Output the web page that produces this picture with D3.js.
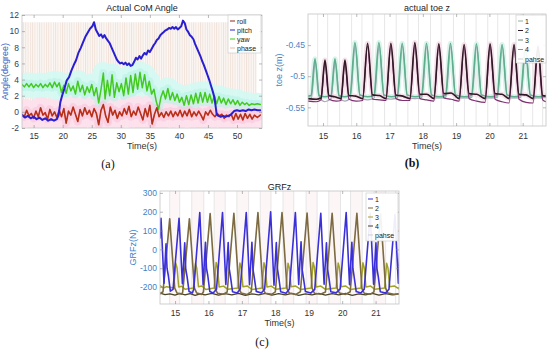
<!DOCTYPE html>
<html>
<head>
<meta charset="utf-8">
<script src="https://cdn.jsdelivr.net/npm/d3@7"></script>
<style>
  body { margin: 0; background: #fff; }
  svg { display: block; }
</style>
</head>
<body>
<svg width="550" height="352"></svg>
<script>
// ---------- (a) Actual CoM Angle : [time s, angle deg] ----------
const comRoll = [[13.0,-0.3],[13.4,-0.6],[13.8,0.2],[14.2,-0.5],[14.6,-0.2],[15.0,-0.8],[15.4,0.1],[15.8,-0.6],[16.2,0.5],[16.6,-0.4],[17.0,-0.1],[17.4,-0.9],[17.8,0.3],[18.2,-0.5],[18.6,0.0],[19.0,-0.7],[19.4,0.2],[19.8,-0.6],[20.2,0.4],[20.6,-1.4],[21.0,0.1],[21.4,-0.4],[21.8,0.6],[22.2,-0.3],[22.6,-1.2],[23.0,0.3],[23.4,-0.5],[23.8,0.5],[24.2,-0.3],[24.6,0.2],[25.0,-0.6],[25.4,0.4],[25.8,-0.2],[26.2,-1.6],[26.6,0.2],[27.0,0.9],[27.4,-0.5],[27.8,-1.3],[28.2,0.6],[28.6,-0.4],[29.0,0.2],[29.4,-0.8],[29.8,0.0],[30.2,-0.5],[30.6,0.4],[31.0,-0.3],[31.4,0.7],[31.8,-0.6],[32.2,0.1],[32.6,-0.4],[33.0,0.6],[33.4,-0.2],[33.8,-1.0],[34.2,0.4],[34.6,-0.6],[35.0,0.8],[35.4,-1.5],[35.8,-0.3],[36.2,0.5],[36.6,-0.6],[37.0,-0.1],[37.4,-0.7],[37.8,0.0],[38.2,-0.5],[38.6,0.1],[39.0,-0.6],[39.4,0.0],[39.8,-0.5],[40.2,0.2],[40.6,-0.6],[41.0,0.1],[41.4,-0.5],[41.8,0.3],[42.2,-0.6],[42.6,0.0],[43.0,-0.5],[43.4,0.1],[43.8,-0.4],[44.2,-1.0],[44.6,0.0],[45.0,-0.4],[45.4,0.2],[45.8,-0.3],[46.2,-0.6],[46.6,-0.2],[47.0,-0.5],[47.4,-0.3],[47.8,-0.8],[48.2,-0.4],[48.6,-0.6],[49.0,-0.3],[49.4,-1.0],[49.8,-0.2],[50.2,-0.9],[50.6,-0.3],[51.0,-1.0],[51.4,-0.2],[51.8,-0.8],[52.2,-0.3],[52.6,-0.9],[53.0,-0.4],[53.5,-0.7],[54.0,-0.4]];
const comPitch = [[13.0,-0.4],[13.5,-0.7],[14.0,-0.5],[14.5,-0.8],[15.0,-0.6],[15.5,-0.9],[16.0,-0.7],[16.5,-1.0],[17.0,-0.8],[17.5,-1.1],[18.0,-0.9],[18.5,-1.1],[19.0,-0.9],[19.3,-0.4],[19.6,1.2],[19.9,2.0],[20.3,2.9],[20.7,3.9],[21.1,4.3],[21.5,5.1],[21.9,5.8],[22.3,6.4],[22.7,7.3],[23.1,7.9],[23.5,8.6],[23.9,9.3],[24.3,9.8],[24.7,10.3],[25.1,10.6],[25.4,11.1],[25.7,10.2],[26.0,9.8],[26.3,9.4],[26.6,9.6],[26.9,9.2],[27.2,9.5],[27.5,9.1],[27.8,8.8],[28.1,8.5],[28.4,8.0],[28.7,7.5],[29.0,7.0],[29.3,6.5],[29.6,6.2],[29.9,6.0],[30.2,6.1],[30.5,5.9],[30.8,6.1],[31.1,5.8],[31.4,6.0],[31.7,5.7],[32.0,5.8],[32.3,6.2],[32.6,6.7],[32.9,6.5],[33.2,6.9],[33.5,6.6],[33.8,7.0],[34.1,7.3],[34.4,7.1],[34.7,7.6],[35.0,7.4],[35.3,7.8],[35.6,8.2],[35.9,8.5],[36.2,8.9],[36.5,9.1],[36.8,9.5],[37.1,9.7],[37.4,9.9],[37.7,10.1],[38.0,10.2],[38.3,10.4],[38.6,10.3],[38.9,10.5],[39.2,10.3],[39.5,10.5],[39.8,10.2],[40.1,10.4],[40.4,10.6],[40.7,11.3],[41.0,11.0],[41.3,10.2],[41.6,9.9],[41.9,9.5],[42.2,9.3],[42.5,9.0],[42.8,8.4],[43.1,7.9],[43.4,7.4],[43.7,6.9],[44.0,6.3],[44.3,5.8],[44.6,5.2],[44.9,4.6],[45.2,4.0],[45.5,3.3],[45.8,2.6],[46.1,1.8],[46.3,0.8],[46.5,-0.3],[46.8,-0.5],[47.2,-0.6],[47.6,-0.5],[48.0,-0.6],[48.5,-0.5],[49.0,-0.3],[49.5,0.1],[50.0,0.2],[50.5,0.1],[51.0,0.2],[51.5,0.1],[52.0,0.3],[52.5,0.2],[53.0,0.3],[53.5,0.2],[54.0,0.2]];
const comYaw = [[13.0,3.4],[13.4,3.1],[13.8,3.5],[14.2,3.1],[14.6,3.5],[15.0,3.0],[15.4,3.4],[15.8,3.1],[16.2,3.5],[16.6,3.0],[17.0,3.4],[17.4,3.1],[17.8,3.6],[18.2,3.0],[18.6,3.7],[19.0,3.1],[19.4,3.6],[19.8,2.4],[20.2,3.3],[20.6,2.3],[21.0,3.5],[21.4,2.6],[21.8,3.2],[22.2,2.2],[22.6,3.8],[23.0,2.5],[23.4,3.3],[23.8,2.1],[24.2,3.1],[24.6,2.4],[25.0,3.4],[25.4,2.0],[25.8,3.0],[26.2,1.1],[26.6,2.8],[27.0,4.8],[27.3,1.6],[27.7,3.9],[28.1,2.0],[28.5,4.6],[28.9,1.8],[29.3,3.6],[29.7,2.5],[30.1,3.5],[30.5,2.0],[30.9,4.2],[31.3,2.2],[31.7,4.5],[32.1,2.4],[32.5,4.7],[32.9,2.8],[33.3,4.9],[33.7,3.0],[34.1,4.6],[34.5,2.6],[34.9,3.8],[35.3,2.2],[35.7,2.8],[36.1,1.3],[36.5,0.3],[36.9,1.8],[37.3,2.6],[37.7,1.6],[38.1,2.9],[38.5,1.5],[38.9,2.4],[39.3,1.4],[39.7,2.2],[40.1,1.2],[40.5,1.8],[40.9,0.8],[41.3,2.0],[41.7,0.9],[42.1,2.1],[42.5,1.0],[42.9,2.3],[43.3,1.1],[43.7,2.4],[44.1,1.2],[44.5,2.4],[44.9,1.2],[45.3,2.2],[45.7,1.1],[46.1,2.0],[46.5,1.0],[46.9,1.9],[47.3,1.1],[47.7,1.7],[48.1,0.9],[48.5,1.6],[48.9,1.0],[49.3,1.5],[49.7,0.9],[50.1,1.4],[50.5,0.8],[50.9,1.2],[51.3,0.9],[51.7,1.1],[52.1,0.8],[52.5,1.0],[53.0,0.9],[53.5,1.0],[54.0,0.9]];
const phaseSpanA = [13.0, 53.4];     // time extent of the phase signal
const phaseLevelsA = [-1.9, 11.1];   // its low / high level
const ticksAx = [15, 20, 25, 30, 35, 40, 45, 50];
const ticksAy = [-2, 0, 2, 4, 6, 8, 10, 12];
const legendA = ["roll", "pitch", "yaw", "phase"];

// ---------- (b) actual toe z : [time s, z m] ----------
const toe1 = [[14.55,-0.532],[14.64,-0.531],[14.76,-0.472],[14.88,-0.531],[15.05,-0.533],[15.24,-0.531],[15.36,-0.472],[15.48,-0.531],[15.65,-0.533],[15.81,-0.531],[15.96,-0.446],[16.11,-0.530],[16.34,-0.533],[16.53,-0.531],[16.68,-0.446],[16.83,-0.530],[17.05,-0.533],[17.23,-0.531],[17.38,-0.447],[17.53,-0.530],[17.76,-0.533],[17.96,-0.531],[18.11,-0.447],[18.26,-0.530],[18.48,-0.533],[18.68,-0.531],[18.83,-0.447],[18.98,-0.530],[19.24,-0.533],[19.46,-0.531],[19.61,-0.448],[19.76,-0.530],[20.02,-0.533],[20.23,-0.531],[20.38,-0.449],[20.53,-0.530],[20.74,-0.533],[20.93,-0.531],[21.08,-0.455],[21.23,-0.530],[21.46,-0.533],[21.7,-0.531]];
const toe2 = [[14.55,-0.536],[14.8,-0.537],[14.94,-0.535],[15.06,-0.474],[15.18,-0.531],[15.35,-0.533],[15.54,-0.536],[15.66,-0.474],[15.78,-0.531],[15.98,-0.532],[16.19,-0.536],[16.34,-0.447],[16.49,-0.530],[16.7,-0.531],[16.89,-0.536],[17.04,-0.447],[17.19,-0.530],[17.4,-0.532],[17.61,-0.536],[17.76,-0.446],[17.91,-0.529],[18.12,-0.529],[18.33,-0.536],[18.48,-0.448],[18.63,-0.528],[18.85,-0.527],[19.09,-0.536],[19.24,-0.449],[19.39,-0.528],[19.62,-0.529],[19.87,-0.536],[20.02,-0.448],[20.17,-0.528],[20.38,-0.529],[20.59,-0.536],[20.74,-0.449],[20.89,-0.529],[21.1,-0.530],[21.31,-0.536],[21.46,-0.452],[21.6,-0.531],[21.7,-0.532]];
const toe3 = [[14.55,-0.536],[14.65,-0.535],[14.77,-0.477],[14.9,-0.535],[15.06,-0.541],[15.24,-0.536],[15.37,-0.477],[15.5,-0.536],[15.66,-0.540],[15.82,-0.535],[15.97,-0.450],[16.12,-0.535],[16.34,-0.538],[16.54,-0.535],[16.69,-0.450],[16.84,-0.534],[17.04,-0.537],[17.24,-0.534],[17.39,-0.451],[17.54,-0.534],[17.76,-0.536],[17.97,-0.534],[18.12,-0.451],[18.27,-0.534],[18.48,-0.535],[18.69,-0.534],[18.84,-0.451],[18.99,-0.534],[19.24,-0.535],[19.47,-0.534],[19.62,-0.452],[19.77,-0.534],[20.02,-0.535],[20.24,-0.534],[20.39,-0.453],[20.54,-0.534],[20.74,-0.535],[20.94,-0.534],[21.09,-0.458],[21.24,-0.534],[21.46,-0.535],[21.7,-0.534]];
const toe4 = [[14.55,-0.540],[14.8,-0.541],[14.94,-0.538],[15.06,-0.478],[15.18,-0.537],[15.4,-0.540],[15.54,-0.539],[15.66,-0.478],[15.78,-0.537],[16.0,-0.540],[16.19,-0.539],[16.34,-0.451],[16.49,-0.537],[16.7,-0.538],[16.89,-0.539],[17.04,-0.451],[17.19,-0.536],[17.4,-0.539],[17.61,-0.539],[17.76,-0.450],[17.91,-0.536],[18.12,-0.538],[18.33,-0.540],[18.48,-0.452],[18.63,-0.535],[18.85,-0.537],[19.09,-0.540],[19.24,-0.453],[19.39,-0.536],[19.62,-0.540],[19.87,-0.542],[20.02,-0.452],[20.17,-0.537],[20.38,-0.541],[20.59,-0.543],[20.74,-0.453],[20.89,-0.537],[21.1,-0.542],[21.31,-0.543],[21.46,-0.456],[21.6,-0.538],[21.7,-0.541]];
const ticksBy = [-0.55, -0.5, -0.45];

// gait phase switch times shared by (b) and (c)
const phaseTimes = [14.84, 15.14, 15.50, 15.86, 16.17, 16.50, 16.85, 17.20, 17.55, 17.87, 18.23, 18.55, 18.92, 19.25, 19.60, 19.95, 20.25, 20.60, 20.95, 21.30, 21.60];
const ticksT = [15, 16, 17, 18, 19, 20, 21];
const legendLegs = ["1", "2", "3", "4", "pahse"];

// ---------- (c) GRFz : [time s, force N] ----------
const grf1 = [[14.55,60],[14.58,165],[14.67,-180],[14.73,30],[14.76,-100],[14.8,-140],[14.86,-222],
  [14.94,-212],[15.12,165],[15.22,-182],[15.29,35],[15.32,-105],[15.36,-145],[15.42,-224],[15.52,-231],
  [15.56,-210],[15.74,195],[15.84,-188],[15.91,38],[15.94,-100],[15.98,-140],[16.04,-224],[16.14,-232],
  [16.24,-212],[16.42,195],[16.52,-186],[16.59,36],[16.62,-102],[16.66,-146],[16.72,-225],[16.86,-232],
  [16.95,-210],[17.13,195],[17.23,-187],[17.3,38],[17.33,-104],[17.37,-148],[17.43,-223],[17.58,-232],
  [17.68,-212],[17.86,200],[17.96,-190],[18.03,36],[18.06,-100],[18.1,-145],[18.16,-225],[18.32,-233],
  [18.42,-211],[18.6,195],[18.7,-186],[18.77,40],[18.8,-104],[18.84,-150],[18.9,-224],[19.06,-232],
  [19.18,-212],[19.36,192],[19.46,-185],[19.53,35],[19.56,-103],[19.6,-146],[19.66,-225],[19.82,-231],
  [19.94,-210],[20.12,195],[20.22,-188],[20.29,38],[20.32,-100],[20.36,-148],[20.42,-224],[20.56,-232],
  [20.66,-211],[20.84,190],[20.94,-185],[21.01,35],[21.04,-102],[21.08,-145],[21.14,-225],[21.3,-232],
  [21.4,-212],[21.58,185],[21.68,-180],[21.72,-20]];
const grf2 = [[14.55,-236],[14.64,-225],[14.84,162],[14.99,-205],[15.06,-232],[15.2,-238],
  [15.23,-226],[15.43,163],[15.58,-206],[15.65,-232],[15.8,-239],
  [15.85,-225],[16.05,190],[16.2,-208],[16.27,-233],[16.45,-238],
  [16.56,-226],[16.76,192],[16.91,-207],[16.98,-232],[17.15,-240],
  [17.28,-225],[17.48,195],[17.63,-208],[17.7,-233],[17.9,-238],
  [18.0,-226],[18.2,195],[18.35,-208],[18.42,-232],[18.6,-240],
  [18.75,-225],[18.95,193],[19.1,-206],[19.17,-233],[19.35,-238],
  [19.5,-226],[19.7,192],[19.85,-207],[19.92,-232],[20.1,-239],
  [20.24,-225],[20.44,192],[20.59,-207],[20.66,-233],[20.85,-238],
  [20.95,-226],[21.15,187],[21.3,-206],[21.37,-232],[21.55,-239],[21.7,-236]];
const grf3 = [[14.55,-192],[14.65,-205],[14.75,-198],[14.96,-205],[15.02,-72],[15.06,-98],[15.11,-200],[15.2,-196],[15.3,-212],
  [15.55,-205],[15.61,-74],[15.65,-100],[15.7,-198],[15.8,-194],[15.92,-213],
  [16.17,-205],[16.23,-70],[16.27,-96],[16.32,-200],[16.45,-195],[16.58,-212],
  [16.88,-205],[16.94,-72],[16.98,-98],[17.03,-198],[17.16,-194],[17.3,-213],
  [17.6,-205],[17.66,-71],[17.7,-97],[17.75,-200],[17.88,-195],[18.02,-212],
  [18.32,-205],[18.38,-73],[18.42,-99],[18.47,-198],[18.6,-194],[18.76,-213],
  [19.07,-205],[19.13,-70],[19.17,-96],[19.22,-200],[19.36,-195],[19.5,-212],
  [19.82,-205],[19.88,-72],[19.92,-98],[19.97,-198],[20.1,-194],[20.25,-213],
  [20.56,-205],[20.62,-71],[20.66,-97],[20.71,-200],[20.85,-195],[20.98,-212],
  [21.27,-205],[21.33,-73],[21.37,-99],[21.42,-198],[21.56,-194],[21.7,-210]];
const grf4 = [[14.55,-232],[14.7,-240],[14.85,-236],[15.0,-243],[15.15,-234],[15.3,-241],[15.45,-235],[15.6,-244],[15.75,-236],[15.9,-242],[16.1,-234],[16.3,-243],[16.5,-235],[16.7,-242],[16.9,-234],[17.1,-244],[17.3,-236],[17.5,-241],[17.7,-234],[17.9,-243],[18.1,-235],[18.3,-242],[18.5,-234],[18.7,-244],[18.9,-236],[19.1,-241],[19.3,-234],[19.5,-243],[19.7,-235],[19.9,-242],[20.1,-234],[20.3,-244],[20.5,-236],[20.7,-241],[20.9,-234],[21.1,-243],[21.3,-235],[21.5,-242],[21.7,-236]];
const ticksCy = [-200, -100, 0, 100, 200, 300];

// ---------------------------------------------------------------
const svg = d3.select("svg");
const FONT = '"Liberation Sans", Arial, Helvetica, sans-serif';
const SERIF = '"Liberation Serif", "Times New Roman", serif';

function addPanel(o) {
  const x = d3.scaleLinear().domain(o.xDomain).range([o.left, o.right]);
  const y = d3.scaleLinear().domain(o.yDomain).range([o.bottom, o.top]);
  svg.append("clipPath").attr("id", o.id + "-clip").append("rect")
    .attr("x", o.left).attr("y", o.top)
    .attr("width", o.right - o.left).attr("height", o.bottom - o.top);
  const plot = svg.append("g").attr("clip-path", `url(#${o.id}-clip)`);
  return { x, y, plot, o };
}

function finishPanel(p) {
  const { x, y, o } = p;
  const g = svg.append("g");
  g.append("rect")
    .attr("x", o.left).attr("y", o.top)
    .attr("width", o.right - o.left).attr("height", o.bottom - o.top)
    .attr("fill", "none").attr("stroke", "#c4c4c4").attr("stroke-width", 0.8);

  const xa = g.append("g").attr("transform", `translate(0,${o.bottom})`)
    .call(d3.axisBottom(x).tickValues(o.xTicks).tickSize(-3).tickPadding(o.xPad).tickFormat(d => String(d)));
  g.append("g").attr("transform", `translate(0,${o.top})`)
    .call(d3.axisTop(x).tickValues(o.xTicks).tickSize(-3).tickFormat(""));
  const ya = g.append("g").attr("transform", `translate(${o.left},0)`)
    .call(d3.axisLeft(y).tickValues(o.yTicks).tickSize(-3).tickPadding(3).tickFormat(d => String(d)));
  g.append("g").attr("transform", `translate(${o.right},0)`)
    .call(d3.axisRight(y).tickValues(o.yTicks).tickSize(-3).tickFormat(""));

  g.selectAll(".domain").remove();
  g.selectAll(".tick line").attr("stroke", "#8a8a8a").attr("stroke-width", 0.6);
  xa.selectAll("text").attr("fill", "#333").style("font-size", "8.5px").style("font-family", FONT);
  ya.selectAll("text").attr("fill", o.yTickColor).style("font-size", "8.5px").style("font-family", FONT);

  g.append("text").attr("x", (o.left + o.right) / 2).attr("y", o.titleY)
    .attr("text-anchor", "middle").attr("fill", "#222")
    .style("font-size", "9px").style("font-family", FONT).text(o.title);
  g.append("text").attr("x", (o.left + o.right) / 2).attr("y", o.xLabelY)
    .attr("text-anchor", "middle").attr("fill", "#333")
    .style("font-size", "9px").style("font-family", FONT).text("Time(s)");
  g.append("text")
    .attr("transform", `translate(${o.yLabelX},${(o.top + o.bottom) / 2}) rotate(-90)`)
    .attr("text-anchor", "middle").attr("fill", o.yLabelColor)
    .style("font-size", "9px").style("font-family", FONT).text(o.yLabel);
  g.append("text").attr("x", o.capX).attr("y", o.capY)
    .attr("text-anchor", "middle").attr("fill", "#111")
    .style("font-size", "12px").style("font-family", SERIF)
    .style("font-weight", o.capBold ? "bold" : "normal").text(o.caption);
}

function addLegend(x0, y0, w, h, names, colors, step) {
  const g = svg.append("g");
  g.append("rect").attr("x", x0).attr("y", y0).attr("width", w).attr("height", h)
    .attr("fill", "#fff").attr("fill-opacity", 0.92)
    .attr("stroke", "#c6c6c6").attr("stroke-width", 0.6);
  names.forEach((n, i) => {
    const yy = y0 + 6 + i * step;
    g.append("line").attr("x1", x0 + 2).attr("x2", x0 + 7).attr("y1", yy).attr("y2", yy)
      .attr("stroke", colors[i]).attr("stroke-width", 1);
    g.append("text").attr("x", x0 + 9).attr("y", yy + 2.5).attr("fill", "#222")
      .style("font-size", "7px").style("font-family", FONT).text(n);
  });
}

function drawLine(plot, x, y, data, color, width, curve, opacity) {
  plot.append("path").datum(data)
    .attr("fill", "none").attr("stroke", color).attr("stroke-width", width)
    .attr("stroke-linejoin", "round").attr("stroke-linecap", "round")
    .attr("stroke-opacity", opacity == null ? 1 : opacity)
    .attr("d", d3.line().x(d => x(d[0])).y(d => y(d[1])).curve(curve || d3.curveLinear));
}

// ---------- (a) ----------
const pa = addPanel({ id: "a", xDomain: [13, 54.3], yDomain: [-2, 12], left: 22, right: 262, top: 15, bottom: 128 });
{
  const { x, y, plot } = pa;
  const pat = svg.append("defs").append("pattern").attr("id", "stripes")
    .attr("patternUnits", "userSpaceOnUse").attr("width", 2.3).attr("height", 10);
  pat.append("rect").attr("width", 2.3).attr("height", 10).attr("fill", "#fbf7f4");
  pat.append("rect").attr("width", 0.9).attr("height", 10).attr("fill", "#f0e2da");
  plot.append("rect")
    .attr("x", x(phaseSpanA[0])).attr("width", x(phaseSpanA[1]) - x(phaseSpanA[0]))
    .attr("y", y(phaseLevelsA[1])).attr("height", y(phaseLevelsA[0]) - y(phaseLevelsA[1]))
    .attr("fill", "url(#stripes)");
  drawLine(plot, x, y, comYaw, "#d3faf3", 22, d3.curveLinear, 0.9);
  drawLine(plot, x, y, comRoll, "#fde0ec", 22, d3.curveLinear, 0.9);
  drawLine(plot, x, y, comYaw, "#b6f2e6", 8, d3.curveLinear, 0.6);
  drawLine(plot, x, y, comRoll, "#f9c4dc", 8, d3.curveLinear, 0.6);
  drawLine(plot, x, y, comYaw, "#44c91e", 1.5);
  drawLine(plot, x, y, comRoll, "#d42a1c", 1.6);
  drawLine(plot, x, y, comRoll, "#7b4418", 0.6, d3.curveLinear, 0.8);
  drawLine(plot, x, y, comPitch, "#2a1fd0", 2);
}
finishPanel(Object.assign(pa, { o: Object.assign(pa.o, {
  xTicks: ticksAx, yTicks: ticksAy, xPad: 5, yTickColor: "#34405a",
  title: "Actual CoM Angle", titleY: 10.5, xLabelY: 149, yLabel: "Angle(degree)", yLabelX: 8,
  yLabelColor: "#3b5fc4", caption: "(a)", capX: 108, capY: 168 }) }));
addLegend(228, 15, 33, 38, legendA, ["#8a2a14", "#2a1fd0", "#42c81c", "#e8b8a8"], 9);

// ---------- (b) ----------
const pb = addPanel({ id: "b", xDomain: [14.55, 21.7], yDomain: [-0.58, -0.4], left: 308, right: 546, top: 14, bottom: 126 });
{
  const { x, y, plot } = pb;
  plot.selectAll("line.ph").data(phaseTimes).join("line")
    .attr("x1", d => x(d)).attr("x2", d => x(d)).attr("y1", pb.o.top).attr("y2", pb.o.bottom)
    .attr("stroke", "#dcdcdc").attr("stroke-width", 0.7);
  drawLine(plot, x, y, toe1, "#dcf5ec", 5, d3.curveMonotoneX);
  drawLine(plot, x, y, toe2, "#f7e1eb", 5, d3.curveMonotoneX);
  drawLine(plot, x, y, toe3, "#a9a6b8", 1.2, d3.curveMonotoneX);
  drawLine(plot, x, y, toe1, "#5fae8e", 1.6, d3.curveMonotoneX);
  drawLine(plot, x, y, toe4, "#7e2f72", 1.2, d3.curveMonotoneX);
  drawLine(plot, x, y, toe2, "#2e1a24", 1.6, d3.curveMonotoneX);
}
finishPanel(Object.assign(pb, { o: Object.assign(pb.o, {
  xTicks: ticksT, yTicks: ticksBy, xPad: 7, yTickColor: "#4a84c6",
  title: "actual toe z", titleY: 10.5, xLabelY: 149, yLabel: "toe z(m)", yLabelX: 282,
  yLabelColor: "#4a84c6", caption: "(b)", capX: 412, capY: 167, capBold: true }) }));
addLegend(516, 15, 30, 48, legendLegs, ["#8fb09e", "#2e1a24", "#6c8a78", "#a08aa0", "#cfcfcf"], 9.5);

// ---------- (c) ----------
const pc = addPanel({ id: "c", xDomain: [14.55, 21.7], yDomain: [-290, 310], left: 160, right: 399, top: 191, bottom: 304 });
{
  const { x, y, plot } = pc;
  const bands = d3.pairs(phaseTimes).filter((d, i) => i % 2 === 0);
  plot.selectAll("rect.band").data(bands).join("rect")
    .attr("x", d => x(d[0])).attr("width", d => x(d[1]) - x(d[0]))
    .attr("y", pc.o.top).attr("height", pc.o.bottom - pc.o.top)
    .attr("fill", "#fdf6f7");
  plot.selectAll("line.ph").data(phaseTimes).join("line")
    .attr("x1", d => x(d)).attr("x2", d => x(d)).attr("y1", pc.o.top).attr("y2", pc.o.bottom)
    .attr("stroke", "#dcdcdc").attr("stroke-width", 0.7);
  drawLine(plot, x, y, grf4, "#4b4326", 1.3);
  drawLine(plot, x, y, grf3, "#a2a22a", 1.5);
  drawLine(plot, x, y, grf2, "#7c6a40", 1.6);
  drawLine(plot, x, y, grf1, "#3b30d8", 1.6);
}
finishPanel(Object.assign(pc, { o: Object.assign(pc.o, {
  xTicks: ticksT, yTicks: ticksCy, xPad: 6, yTickColor: "#3f7fc8",
  title: "GRFz", titleY: 189.5, xLabelY: 326, yLabel: "GRFz(N)", yLabelX: 136,
  yLabelColor: "#3f7fc8", caption: "(c)", capX: 262, capY: 346 }) }));
addLegend(366, 193, 32, 48, legendLegs, ["#3b30d8", "#7c6a40", "#a2a22a", "#4b4326", "#cfcfcf"], 9);
</script>
</body>
</html>
